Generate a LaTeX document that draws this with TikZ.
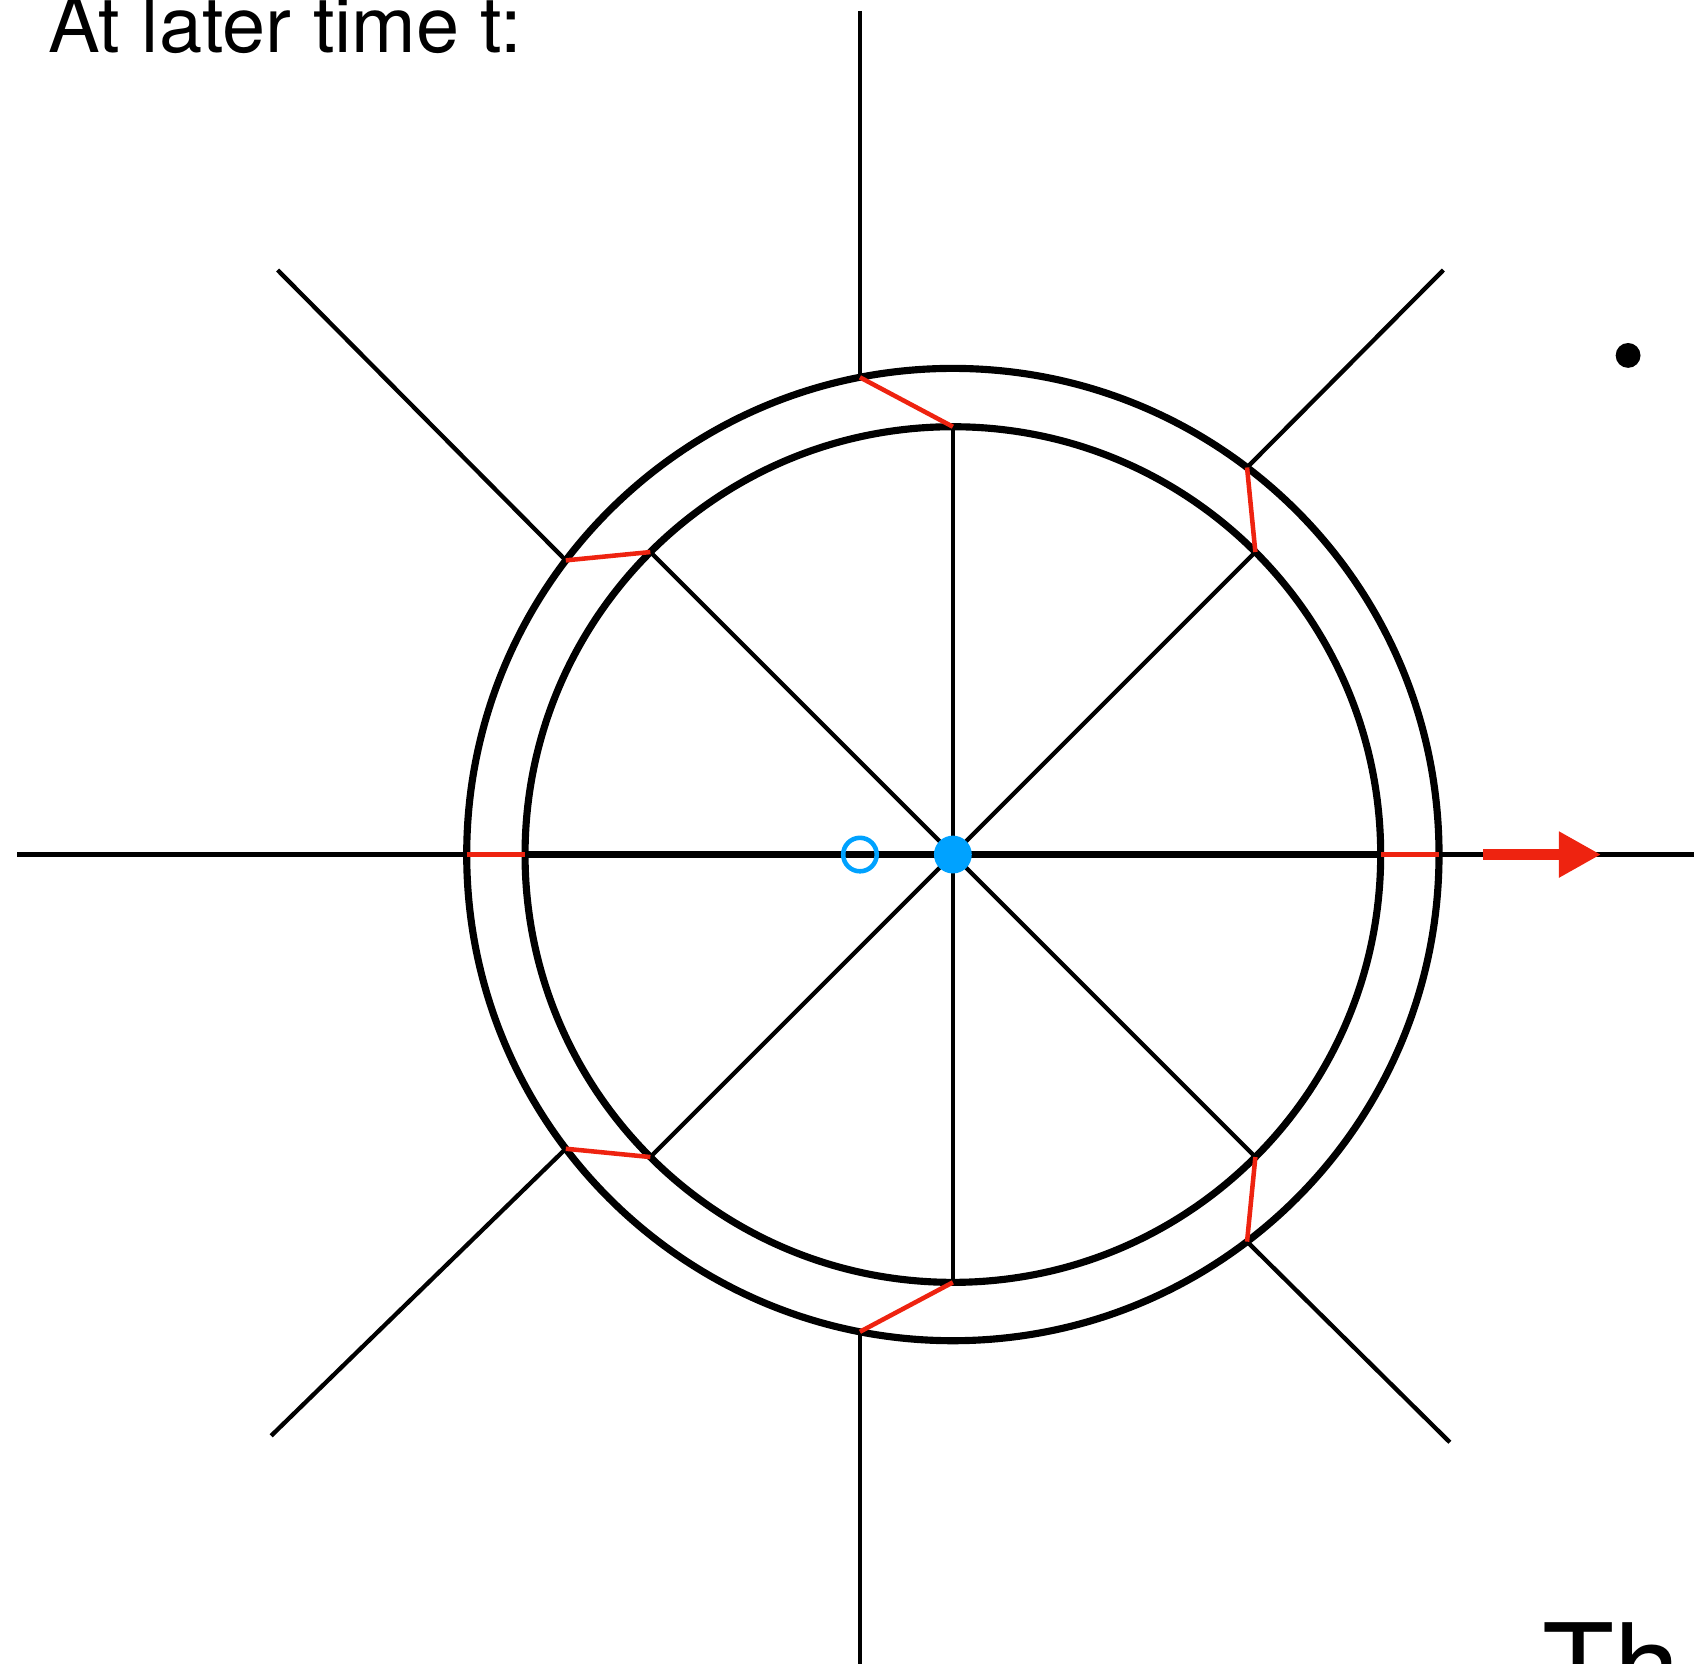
\documentclass[tikz,border=0pt]{standalone}
\usepackage{fontspec}
\setmainfont{TeX Gyre Heros}
\usetikzlibrary{arrows.meta}

\definecolor{linkred}{RGB}{238,35,16}
\definecolor{ptblue}{RGB}{0,162,255}

\begin{document}
\begin{tikzpicture}[x=0.01cm, y=-0.01cm,
    ray/.style={line width=0.04cm},
    hray/.style={line width=0.048cm},
    ring/.style={line width=0.066cm},
    link/.style={linkred, line width=0.042cm},
    arr/.style={-{Triangle[length=0.39cm, width=0.40cm]}, linkred, line width=0.1cm},
    newpt/.style={circle, fill=ptblue, inner sep=0pt, minimum size=0.35cm},
    oldpt/.style={circle, draw=ptblue, line width=0.042cm, inner sep=0pt, minimum size=0.31cm},
    lbl/.style={inner sep=0pt, anchor=base west},
  ]
    \clip (0,0) rectangle (1568,1540);

    % Centres (new and old)
    \coordinate (c) at (882,791);
    \coordinate (o) at (796,791);

    % Points on outer ring
    \coordinate (ot)  at (796,349.3);
    \coordinate (ob)  at (796,1232.7);
    \coordinate (ol)  at (432,791);
    \coordinate (or)  at (1332,791);
    \coordinate (otl) at (523.7,518.7);
    \coordinate (otr) at (1154.3,432.7);
    \coordinate (obr) at (1154.3,1149.3);
    \coordinate (obl) at (523.7,1063.3);

    % Points on inner ring
    \coordinate (it)  at (882,395);
    \coordinate (ib)  at (882,1187);
    \coordinate (il)  at (486,791);
    \coordinate (ir)  at (1278,791);
    \coordinate (itl) at (602,511);
    \coordinate (itr) at (1162,511);
    \coordinate (ibr) at (1162,1071);
    \coordinate (ibl) at (602,1071);

    % Far ends of outer rays
    \coordinate (ft)  at (796,10);
    \coordinate (fb)  at (796,1545);
    \coordinate (fl)  at (16,791);
    \coordinate (fr)  at (1575,791);
    \coordinate (ftl) at (257,250);
    \coordinate (ftr) at (1336,250);
    \coordinate (fbr) at (1342,1335);
    \coordinate (fbl) at (251,1329);

    % Label
    \node[lbl, font=\fontsize{20.4}{24}\selectfont] (title) at (44,49) {At later time t:};
    \node[lbl, font=\fontsize{31}{36}\selectfont] (cut) at (1427,1581) {Th};

    % Rings
    \draw[ring] (c) circle[radius=450];
    \draw[ring] (c) circle[radius=396];

    % Outer rays
    \draw[ray] (ft) -- (ot);
    \draw[ray] (fb) -- (ob);
    \draw[hray] (fl) -- (ol);
    \draw[hray] (fr) -- (or);
    \draw[ray] (ftl) -- (otl);
    \draw[ray] (ftr) -- (otr);
    \draw[ray] (fbr) -- (obr);
    \draw[ray] (fbl) -- (obl);

    % Inner spokes
    \draw[ray] (c) -- (it);
    \draw[ray] (c) -- (ib);
    \draw[line width=0.062cm] (il) -- (ir);
    \draw[ray] (c) -- (itl);
    \draw[ray] (c) -- (itr);
    \draw[ray] (c) -- (ibr);
    \draw[ray] (c) -- (ibl);

    % Links between rings
    \foreach \p in {t,b,l,r,tl,tr,br,bl}
      \draw[link] (o\p) -- (i\p);

    % Points
    \node[oldpt] (old) at (o) {};
    \node[newpt] (new) at (c) {};
    \node[circle, fill=black, inner sep=0pt, minimum size=0.23cm] (bul) at (1507,329) {};

    % Velocity arrow
    \coordinate (vs) at (1373,791);
    \coordinate (ve) at (1482,791);
    \draw[arr] (vs) -- (ve);
\end{tikzpicture}
\end{document}
